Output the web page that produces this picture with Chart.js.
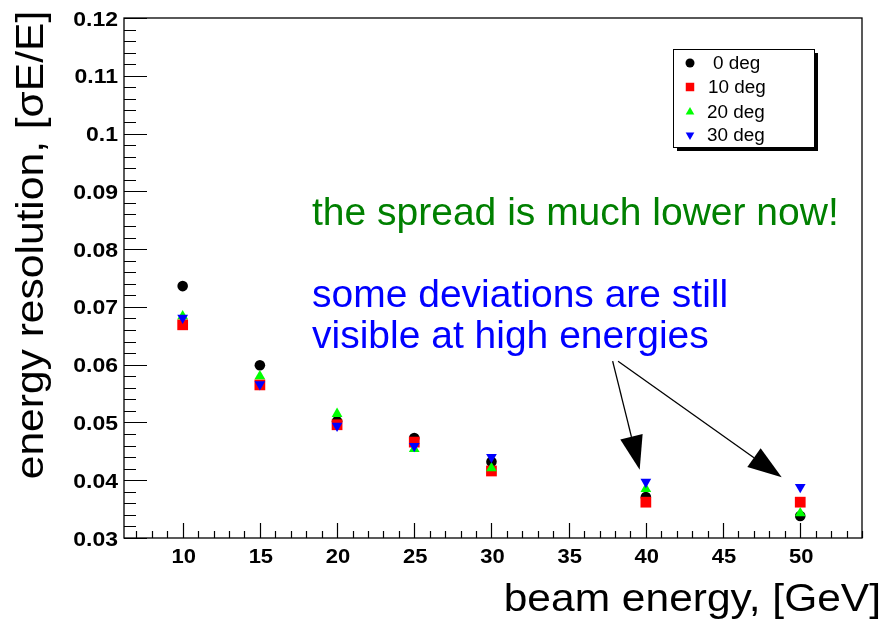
<!DOCTYPE html>
<html>
<head>
<meta charset="utf-8">
<script src="https://cdn.jsdelivr.net/npm/chart.js@4"></script>
<style>
  html, body { margin: 0; padding: 0; background: #fff; }
  #wrap { width: 890px; height: 622px; }
</style>
</head>
<body>
<div id="wrap"><canvas id="c" width="890" height="622"></canvas></div>
<script>
const energies = [10, 15, 20, 25, 30, 40, 50];
const deg0  = [0.0736, 0.0599, 0.0502, 0.0473, 0.0432, 0.0371, 0.0338];
const deg10 = [0.0669, 0.0565, 0.0496, 0.0466, 0.0416, 0.0362, 0.0362];
const deg20 = [0.0684, 0.0580, 0.0515, 0.0454, 0.0421, 0.0385, 0.0343];
const deg30 = [0.0681, 0.0566, 0.0494, 0.0459, 0.0440, 0.0397, 0.0388];
const seriesNames = ['0 deg', '10 deg', '20 deg', '30 deg'];
const xTicks = [10, 15, 20, 25, 30, 35, 40, 45, 50];
const yTicks = [0.03, 0.04, 0.05, 0.06, 0.07, 0.08, 0.09, 0.1, 0.11, 0.12];

// annotation arrows, in data coords: [fromX, fromY, toX, toY]
const arrows = [
    [37.85, 0.0606, 39.6, 0.0418],
    [38.2, 0.0606, 48.8, 0.0405],
];

const FONT = '"Liberation Sans", Arial, sans-serif';

function pts(vals) {
    return energies.map((x, i) => ({ x, y: vals[i] }));
}

const styles = [
    { pointStyle: 'circle', rotation: 0, radius: 5.3, color: '#000000', order: 4 },
    { pointStyle: 'rect', rotation: 0, radius: 7.6, color: '#ff0000', order: 3 },
    { pointStyle: 'triangle', rotation: 0, radius: 6.2, color: '#00ff00', order: 2 },
    { pointStyle: 'triangle', rotation: 180, radius: 6.2, color: '#0000ff', order: 1 },
];
const values = [deg0, deg10, deg20, deg30];

const datasets = values.map((v, i) => ({
    label: seriesNames[i],
    data: pts(v),
    pointStyle: styles[i].pointStyle,
    rotation: styles[i].rotation,
    pointRadius: styles[i].radius,
    backgroundColor: styles[i].color,
    borderColor: styles[i].color,
    borderWidth: 0,
    order: styles[i].order,
    showLine: false,
}));

// text drawn with a stretch, the picture's fonts run wide
function stretchText(ctx, txt, x, y, sx, align, rot, sy) {
    ctx.save();
    ctx.translate(x, y);
    if (rot) ctx.rotate(rot);
    ctx.scale(sx, sy || 1);
    ctx.textAlign = align;
    ctx.fillText(txt, 0, 0);
    ctx.restore();
}

const frameTicks = {
    id: 'frameTicks',
    afterDraw(chart) {
        const ctx = chart.ctx;
        const a = chart.chartArea;
        const xs = chart.scales.x, ys = chart.scales.y;
        ctx.save();
        ctx.strokeStyle = '#000';
        ctx.lineWidth = 1.3;
        ctx.strokeRect(a.left, a.top, a.right - a.left, a.bottom - a.top);

        ctx.lineWidth = 1.2;
        ctx.beginPath();
        // y ticks (inward from left)
        for (let k = 0; k <= 45; k++) {
            const v = 0.03 + k * 0.002;
            const py = Math.round(ys.getPixelForValue(v)) + 0.5;
            const len = (k % 5 === 0) ? 23 : 12;
            ctx.moveTo(a.left, py);
            ctx.lineTo(a.left + len, py);
        }
        // x ticks (inward from bottom)
        for (let v = 7; v <= 54; v++) {
            const px = Math.round(xs.getPixelForValue(v)) + 0.5;
            const len = (v % 5 === 0) ? 15 : 7;
            ctx.moveTo(px, a.bottom);
            ctx.lineTo(px, a.bottom - len);
        }
        ctx.stroke();

        // tick labels
        ctx.fillStyle = '#000';
        ctx.font = 'bold 20px ' + FONT;
        ctx.textBaseline = 'middle';
        for (const v of yTicks) {
            stretchText(ctx, String(Number(v.toFixed(2))), a.left - 6, ys.getPixelForValue(v) + 2, 1.15, 'right');
        }
        for (const v of xTicks) {
            stretchText(ctx, String(v), xs.getPixelForValue(v) + 1, 557, 1.1, 'center');
        }

        // axis titles
        ctx.font = '39px ' + FONT;
        ctx.textBaseline = 'alphabetic';
        stretchText(ctx, 'beam energy, [GeV]', 881, 611, 1.09, 'right');
        ctx.textBaseline = 'middle';
        ctx.font = '37px ' + FONT;
        stretchText(ctx, 'energy resolution, [σE/E]', 32, 245, 1.15, 'center', -Math.PI / 2, 1.05);

        // notes
        ctx.textAlign = 'left';
        ctx.font = '39px ' + FONT;
        ctx.fillStyle = '#008000';
        ctx.fillText('the spread is much lower now!', 312, 214);
        ctx.fillStyle = '#0000ff';
        ctx.fillText('some deviations are still', 312, 296);
        ctx.fillText('visible at high energies', 312, 337);

        // arrows
        ctx.strokeStyle = '#000';
        ctx.fillStyle = '#000';
        ctx.lineWidth = 1.3;
        for (const [x0, y0, x1, y1] of arrows) {
            const sx = xs.getPixelForValue(x0), sy = ys.getPixelForValue(y0);
            const ex = xs.getPixelForValue(x1), ey = ys.getPixelForValue(y1);
            const ang = Math.atan2(ey - sy, ex - sx);
            const hl = 34, hw = 11.5;
            const bx = ex - hl * Math.cos(ang), by = ey - hl * Math.sin(ang);
            ctx.beginPath();
            ctx.moveTo(sx, sy);
            ctx.lineTo(bx, by);
            ctx.stroke();
            ctx.beginPath();
            ctx.moveTo(ex, ey);
            ctx.lineTo(bx + hw * Math.sin(ang), by - hw * Math.cos(ang));
            ctx.lineTo(bx - hw * Math.sin(ang), by + hw * Math.cos(ang));
            ctx.closePath();
            ctx.fill();
        }

        // legend box with shadow
        const lx = 673, ly = 49, lw = 141, lh = 98;
        ctx.fillStyle = '#000';
        ctx.fillRect(lx + 4, ly + 4, lw, lh);
        ctx.fillStyle = '#fff';
        ctx.fillRect(lx, ly, lw, lh);
        ctx.strokeStyle = '#000';
        ctx.lineWidth = 1;
        ctx.strokeRect(lx + 0.5, ly + 0.5, lw, lh);
        ctx.font = '18px ' + FONT;
        ctx.textBaseline = 'middle';
        const rowY = [63, 87, 112, 135];
        const textX = [713, 708, 707, 707];
        const legR = [4.5, 6, 5, 5];
        seriesNames.forEach((name, i) => {
            ctx.fillStyle = styles[i].color;
            ctx.strokeStyle = styles[i].color;
            Chart.helpers.drawPoint(ctx, {
                pointStyle: styles[i].pointStyle,
                rotation: styles[i].rotation,
                radius: legR[i],
                borderWidth: 0,
            }, 690, rowY[i]);
            ctx.fillStyle = '#000';
            stretchText(ctx, name, textX[i], rowY[i] + 1, 1.05, 'left');
        });
        ctx.restore();
    }
};

new Chart(document.getElementById('c').getContext('2d'), {
    type: 'scatter',
    data: { datasets },
    options: {
        responsive: false,
        animation: false,
        events: [],
        layout: { padding: { left: 0, right: 28, top: 18, bottom: 0 } },
        plugins: { legend: { display: false }, tooltip: { enabled: false } },
        scales: {
            x: {
                type: 'linear',
                min: 6.2,
                max: 54,
                grid: { display: false, drawTicks: false },
                border: { display: false },
                afterBuildTicks: s => { s.ticks = xTicks.map(v => ({ value: v })); },
                afterFit: s => { s.height = 84; },
                ticks: { display: false },
            },
            y: {
                type: 'linear',
                min: 0.03,
                max: 0.12,
                grid: { display: false, drawTicks: false },
                border: { display: false },
                afterBuildTicks: s => { s.ticks = yTicks.map(v => ({ value: v })); },
                afterFit: s => { s.width = 124; },
                ticks: { display: false },
            },
        },
    },
    plugins: [frameTicks],
});
</script>
</body>
</html>
